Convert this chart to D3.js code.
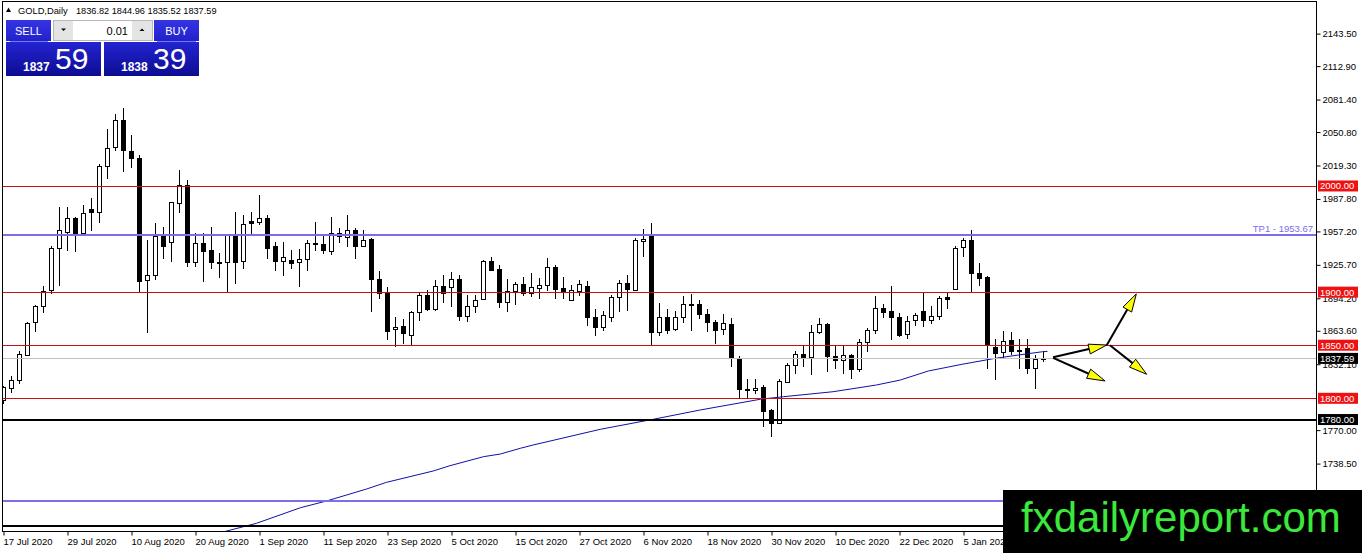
<!DOCTYPE html>
<html>
<head>
<meta charset="utf-8">
<script src="https://cdn.jsdelivr.net/npm/d3@7"></script>
<style>
  html, body { margin: 0; padding: 0; background: #fff; }
  svg { display: block; }
  text { font-family: "Liberation Sans", Arial, sans-serif; }
</style>
</head>
<body>
<svg id="chart" width="1362" height="553"></svg>
<script>
// ---------------- DATA ----------------
const opens = [1798.2,1810.1,1817.0,1841.0,1871.6,1886.6,1901.7,1941.5,1957.0,1969.6,
  1955.5,1978.3,1975.8,2018.7,2036.8,2061.9,2032.8,2026.5,1911.4,1916.4,
  1953.0,1947.1,1984.1,2000.9,1928.0,1946.1,1939.9,1928.3,1928.0,1953.3,
  1928.9,1967.1,1966.4,1970.2,1943.0,1929.8,1930.5,1928.3,1931.4,1946.7,
  1945.2,1938.9,1953.0,1952.4,1958.6,1943.6,1949.9,1912.4,1899.2,1865.4,
  1868.5,1859.4,1881.4,1897.6,1884.5,1906.1,1904.9,1912.4,1877.3,1886.6,
  1893.6,1929.5,1922.0,1890.8,1900.7,1907.7,1899.2,1903.9,1906.4,1923.6,
  1903.9,1892.9,1901.4,1906.1,1876.7,1867.3,1876.7,1895.5,1908.6,1902.0,
  1948.3,1953.3,1862.6,1876.7,1865.4,1876.7,1889.2,1888.9,1879.5,1872.0,
  1865.4,1870.1,1837.6,1809.1,1807.8,1811.0,1788.8,1777.2,1815.7,1831.0,
  1841.3,1838.8,1862.3,1870.1,1839.7,1836.0,1841.1,1827.3,1853.3,1864.1,
  1885.1,1882.6,1876.7,1860.1,1873.3,1882.6,1873.5,1877.9,1895.1,1903.0,
  1942.4,1949.2,1918.0,1914.2,1848.5,1843.9,1854.5,1845.7,1847.0,1828.2,
  1836.82];
const highs = [1811.6,1821.0,1844.4,1871.6,1887.6,1906.1,1943.0,1980.5,1979.9,1971.1,
  1982.1,1988.4,2021.0,2054.1,2068.1,2073.8,2048.4,2029.0,1949.2,1965.5,
  1961.7,1985.2,2014.9,2005.5,1955.5,1955.5,1961.7,1936.8,1954.5,1975.8,
  1972.7,1975.8,1991.5,1972.7,1947.6,1947.6,1939.9,1940.8,1949.2,1965.8,
  1954.0,1971.1,1960.8,1972.7,1960.2,1958.6,1950.8,1919.5,1904.9,1876.7,
  1874.8,1882.0,1899.2,1902.3,1911.7,1916.4,1918.6,1916.4,1897.6,1897.6,
  1930.5,1933.0,1925.8,1912.6,1909.2,1913.9,1918.0,1913.3,1932.1,1925.8,
  1913.9,1907.0,1911.7,1910.1,1884.5,1882.0,1897.6,1911.7,1916.4,1951.4,
  1959.6,1964.9,1889.8,1884.2,1882.0,1896.1,1898.3,1892.9,1884.5,1874.2,
  1879.5,1875.8,1839.7,1817.9,1818.5,1812.2,1789.7,1817.9,1833.5,1844.4,
  1849.1,1868.8,1875.8,1871.1,1850.0,1849.1,1842.0,1855.4,1866.4,1896.1,
  1888.9,1906.1,1880.4,1877.3,1880.4,1899.8,1886.6,1896.1,1899.8,1943.0,
  1951.4,1958.6,1927.4,1915.5,1855.4,1863.2,1862.6,1856.0,1856.0,1840.7,
  1844.96];
const lows = [1796.0,1806.0,1814.8,1841.0,1863.2,1881.4,1899.2,1906.4,1939.9,1938.3,
  1955.5,1958.6,1966.4,2007.7,2033.7,2014.0,2018.0,1900.7,1862.6,1912.6,
  1932.1,1928.9,1975.2,1924.2,1924.2,1910.8,1923.2,1913.9,1901.4,1908.6,
  1922.6,1954.0,1964.0,1932.1,1921.0,1915.8,1922.6,1905.7,1920.4,1939.9,
  1936.8,1936.1,1947.6,1943.0,1932.1,1943.6,1882.0,1894.5,1856.0,1849.1,
  1851.7,1850.2,1874.2,1882.9,1883.6,1890.4,1886.6,1874.2,1872.6,1881.0,
  1893.6,1921.1,1885.7,1882.0,1888.9,1897.6,1896.1,1894.5,1902.3,1894.5,
  1894.5,1892.9,1897.6,1869.5,1859.4,1864.8,1872.6,1882.0,1883.6,1902.0,
  1934.3,1850.7,1859.4,1861.7,1864.8,1872.0,1864.8,1875.8,1863.2,1852.3,
  1860.1,1830.3,1800.5,1800.7,1805.4,1774.1,1764.6,1777.2,1815.7,1824.2,
  1830.3,1822.6,1861.7,1825.7,1828.9,1824.2,1818.8,1825.7,1844.4,1861.7,
  1876.3,1855.4,1858.5,1857.0,1869.5,1867.9,1871.1,1874.8,1885.1,1903.0,
  1933.6,1900.7,1906.4,1828.9,1817.9,1838.8,1841.3,1828.9,1823.5,1810.1,
  1835.52];
const closes = [1810.6,1817.2,1842.0,1871.1,1887.0,1900.7,1941.5,1958.6,1969.6,1954.9,
  1974.3,1975.8,2018.7,2036.2,2061.9,2033.7,2025.9,1910.1,1916.4,1953.0,
  1943.0,1984.6,2000.9,1928.0,1946.1,1938.9,1928.0,1927.0,1954.0,1928.0,
  1964.0,1965.5,1970.2,1942.0,1929.8,1933.3,1927.4,1931.1,1946.1,1945.2,
  1939.9,1955.5,1955.5,1958.6,1943.6,1949.2,1912.4,1899.2,1863.2,1867.6,
  1861.7,1881.4,1897.3,1884.5,1905.4,1899.2,1912.4,1877.3,1886.6,1892.9,
  1929.5,1921.1,1890.4,1901.4,1907.7,1899.2,1904.5,1906.4,1923.6,1903.3,
  1900.7,1901.7,1907.7,1876.3,1867.3,1878.9,1895.5,1908.6,1903.3,1949.2,
  1950.2,1862.6,1876.7,1864.8,1876.7,1888.9,1887.6,1879.5,1872.0,1864.8,
  1871.1,1837.6,1808.5,1808.1,1810.1,1787.6,1777.2,1816.3,1831.0,1841.3,
  1838.2,1862.3,1870.1,1839.7,1836.0,1840.4,1827.3,1853.3,1864.1,1885.1,
  1881.4,1876.3,1859.4,1872.6,1878.9,1873.5,1877.9,1894.5,1893.9,1942.0,
  1949.2,1918.0,1913.3,1850.0,1842.9,1853.8,1844.5,1844.5,1828.2,1837.3,
  1837.59];

// moving average (bar index, value)
const maIdx = [26, 27.9, 31.6, 37.1, 40.4, 45.4, 47.9, 53.7, 55.8, 60.0, 62.1, 64.6, 66.2,
  74.6, 81.2, 87.1, 94.6, 97.5, 103.7, 109.1, 112.1, 115.6, 119.8, 124.0, 126.9, 129.9, 130.5];
const maVal = [1670.5, 1675.0, 1682.2, 1696.9, 1703.3, 1714.6, 1720.9, 1731.5, 1736.5, 1745.0,
  1747.5, 1752.9, 1756.0, 1770.8, 1780.2, 1789.0, 1799.1, 1801.5, 1806.2, 1812.5, 1817.2,
  1825.7, 1832.0, 1837.7, 1840.8, 1843.9, 1844.2];

const dateIdx = [0, 8, 16, 24, 32, 40, 48, 56, 64, 72, 80, 88, 96, 104, 112, 120];
const dateLabels = ["17 Jul 2020","29 Jul 2020","10 Aug 2020","20 Aug 2020","1 Sep 2020",
  "11 Sep 2020","23 Sep 2020","5 Oct 2020","15 Oct 2020","27 Oct 2020","6 Nov 2020",
  "18 Nov 2020","30 Nov 2020","10 Dec 2020","22 Dec 2020","5 Jan 2021"];

const priceTicks = [2143.50, 2112.90, 2081.40, 2050.80, 2019.30, 1987.80, 1957.20, 1925.70,
  1894.20, 1863.60, 1832.10, 1770.00, 1738.50];

const redLevels = [2000, 1900, 1850, 1800];
const blackLevels = [1780, 1680];
const blueLevels = [1953.67, 1703.3];
const tpLabel = "TP1 - 1953.67";
const currentPrice = 1837.59;

const header = { symbol: "GOLD,Daily", ohlc: "1836.82 1844.96 1835.52 1837.59" };
const lotSize = "0.01";
const sellBig = ["1837", "59"];
const buyBig = ["1838", "39"];

// arrows in (bar index, price) space
const arrows = [
  [131.2, 1838.6, 137.9, 1850.2],
  [131.2, 1838.0, 137.7, 1816.3],
  [137.9, 1850.0, 141.6, 1898.3],
  [138.3, 1850.0, 142.9, 1822.6]
];
const watermark = "fxdailyreport.com";

// ---------------- CHART ----------------
const svg = d3.select("#chart");
const W = 1362, H = 553;
const plotL = 2.5, plotR = 1316, plotT = 1.5, plotB = 531;

const x = d3.scaleLinear().domain([0, 130]).range([3.5, 1043.5]);
const y = d3.scaleLinear().domain([1675.0, 2173.3]).range([531, 2]);

svg.append("rect").attr("width", W).attr("height", H).attr("fill", "#fff");

svg.append("defs").append("clipPath").attr("id", "plotclip")
  .append("rect").attr("x", plotL).attr("y", plotT).attr("width", plotR - plotL).attr("height", plotB - plotT);

const plot = svg.append("g").attr("clip-path", "url(#plotclip)");

// candles
const bars = opens.map((o, i) => ({ i, o, h: highs[i], l: lows[i], c: closes[i] }));
const cg = plot.append("g");
cg.selectAll("line.wick").data(bars).join("line")
  .attr("x1", d => x(d.i)).attr("x2", d => x(d.i))
  .attr("y1", d => Math.round(y(d.h))).attr("y2", d => Math.round(y(d.l)) + 1)
  .attr("stroke", "#000").attr("stroke-width", 1);
cg.selectAll("rect.body").data(bars).join("rect")
  .attr("x", d => x(d.i) - 2)
  .attr("y", d => Math.round(y(Math.max(d.o, d.c))) + 0.5)
  .attr("width", 4)
  .attr("height", d => Math.max(0.01, Math.round(y(Math.min(d.o, d.c))) - Math.round(y(Math.max(d.o, d.c)))))
  .attr("fill", d => d.c >= d.o ? "#fff" : "#000")
  .attr("stroke", "#000").attr("stroke-width", 1);

// moving average
plot.append("path")
  .datum(maIdx.map((d, k) => [d, maVal[k]]))
  .attr("d", d3.line().x(d => x(d[0])).y(d => y(d[1])))
  .attr("fill", "none").attr("stroke", "#1010a8").attr("stroke-width", 1);

// horizontal levels
const hl = svg.append("g");
hl.append("line").attr("x1", plotL).attr("x2", plotR)
  .attr("y1", Math.round(y(currentPrice)) + 0.5).attr("y2", Math.round(y(currentPrice)) + 0.5)
  .attr("stroke", "#c0c0c0").attr("stroke-width", 1);
redLevels.forEach(p => {
  const yy = Math.round(y(p)) + 0.5;
  hl.append("line").attr("x1", plotL).attr("x2", plotR).attr("y1", yy).attr("y2", yy)
    .attr("stroke", "#cc1010").attr("stroke-width", 1);
});
blackLevels.forEach(p => {
  const yy = Math.round(y(p));
  hl.append("line").attr("x1", plotL).attr("x2", plotR).attr("y1", yy).attr("y2", yy)
    .attr("stroke", "#000").attr("stroke-width", 2);
});
blueLevels.forEach(p => {
  const yy = Math.round(y(p));
  hl.append("line").attr("x1", plotL).attr("x2", plotR).attr("y1", yy).attr("y2", yy)
    .attr("stroke", "#7b6ee8").attr("stroke-width", 2);
});
hl.append("text").attr("x", 1313).attr("y", Math.round(y(blueLevels[0])) - 3)
  .attr("text-anchor", "end").attr("font-size", 9.5).attr("fill", "#7b6ee8").text(tpLabel);

// frame
svg.append("rect").attr("x", plotL).attr("y", plotT).attr("width", plotR + 0.5 - plotL).attr("height", plotB + 0.5 - plotT)
  .attr("fill", "none").attr("stroke", "#000").attr("stroke-width", 1);

// right axis
const ya = svg.append("g").attr("transform", `translate(${plotR + 0.5},0)`)
  .call(d3.axisRight(y).tickValues(priceTicks).tickFormat(d3.format(".2f")).tickSize(4).tickPadding(2));
ya.select(".domain").remove();
ya.selectAll("text").attr("font-size", 9.5).attr("fill", "#000").attr("font-family", "Liberation Sans, Arial, sans-serif");
ya.selectAll("line").attr("stroke", "#000");

// bottom axis
const xa = svg.append("g").attr("transform", `translate(0,${plotB + 0.5})`)
  .call(d3.axisBottom(x).tickValues(dateIdx).tickFormat((d, k) => dateLabels[k]).tickSize(4).tickPadding(3));
xa.select(".domain").remove();
xa.selectAll("text").attr("font-size", 9.5).attr("fill", "#000").attr("text-anchor", "start").attr("dx", -0.5)
  .attr("font-family", "Liberation Sans, Arial, sans-serif");
xa.selectAll("line").attr("stroke", "#000");

// price labels on axis
function axisTag(p, bg) {
  const yy = y(p);
  svg.append("rect").attr("x", 1318).attr("y", yy - 5.5).attr("width", 40).attr("height", 11).attr("fill", bg);
  svg.append("text").attr("x", 1320).attr("y", yy + 3.5).attr("font-size", 9.5).attr("fill", "#fff").text(p.toFixed(2));
}
redLevels.forEach(p => axisTag(p, "#ee1111"));
axisTag(1780, "#000");
axisTag(currentPrice, "#000");

// arrows
const ag = svg.append("g");
arrows.forEach(a => {
  const x1 = x(a[0]), y1 = y(a[1]), x2 = x(a[2]), y2 = y(a[3]);
  const dx = x2 - x1, dy = y2 - y1, len = Math.hypot(dx, dy);
  const ux = dx / len, uy = dy / len, px = -uy, py = ux;
  const hl = 18, hw = 5;
  const bx = x2 - ux * hl, by = y2 - uy * hl;
  ag.append("line").attr("x1", x1).attr("y1", y1).attr("x2", bx + ux * 2).attr("y2", by + uy * 2)
    .attr("stroke", "#000").attr("stroke-width", 2);
  ag.append("path")
    .attr("d", `M${x2},${y2}L${bx + px * hw},${by + py * hw}L${bx - px * hw},${by - py * hw}Z`)
    .attr("fill", "#ffff00").attr("stroke", "#000").attr("stroke-width", 1);
});

// header
const hd = svg.append("g");
hd.append("path").attr("d", "M6,12L11,12L8.5,7.5Z").attr("fill", "#000");
hd.append("text").attr("x", 18).attr("y", 14).attr("font-size", 9.3).attr("fill", "#000").text(header.symbol);
hd.append("text").attr("x", 76).attr("y", 14).attr("font-size", 9.2).attr("fill", "#000").text(header.ohlc);

// trade panel
const defs = svg.select("defs");
const g1 = defs.append("linearGradient").attr("id", "gTop").attr("x1", 0).attr("y1", 0).attr("x2", 0).attr("y2", 1);
g1.append("stop").attr("offset", 0).attr("stop-color", "#3434e4");
g1.append("stop").attr("offset", 1).attr("stop-color", "#2222cc");
const g2 = defs.append("linearGradient").attr("id", "gBig").attr("x1", 0).attr("y1", 0).attr("x2", 0).attr("y2", 1);
g2.append("stop").attr("offset", 0).attr("stop-color", "#2424d2");
g2.append("stop").attr("offset", 1).attr("stop-color", "#0c0c92");

const tp = svg.append("g");
tp.append("rect").attr("x", 6).attr("y", 20).attr("width", 45).attr("height", 21).attr("fill", "url(#gTop)");
tp.append("rect").attr("x", 154).attr("y", 20).attr("width", 45).attr("height", 21).attr("fill", "url(#gTop)");
tp.append("line").attr("x1", 10).attr("x2", 48).attr("y1", 41.5).attr("y2", 41.5).attr("stroke", "#7a7af0");
tp.append("line").attr("x1", 157).attr("x2", 196).attr("y1", 41.5).attr("y2", 41.5).attr("stroke", "#7a7af0");
tp.append("text").attr("x", 28.5).attr("y", 35).attr("text-anchor", "middle").attr("font-size", 11).attr("fill", "#fff").text("SELL");
tp.append("text").attr("x", 176.5).attr("y", 35).attr("text-anchor", "middle").attr("font-size", 11).attr("fill", "#fff").text("BUY");
// spinner
tp.append("rect").attr("x", 53.5).attr("y", 20.5).attr("width", 99).attr("height", 20).attr("fill", "#fff").attr("stroke", "#b8b8b8");
tp.append("rect").attr("x", 54).attr("y", 21).attr("width", 19).attr("height", 19).attr("fill", "#e4e4e4");
tp.append("rect").attr("x", 132).attr("y", 21).attr("width", 20).attr("height", 19).attr("fill", "#e4e4e4");
tp.append("path").attr("d", "M61,28.5L66,28.5L63.5,31Z").attr("fill", "#000");
tp.append("path").attr("d", "M139.5,31L144.5,31L142,28.5Z").attr("fill", "#000");
tp.append("text").attr("x", 128).attr("y", 35).attr("text-anchor", "end").attr("font-size", 11).attr("fill", "#000").text(lotSize);
// big price boxes
[[6, sellBig], [104, buyBig]].forEach(([bx, v]) => {
  tp.append("rect").attr("x", bx).attr("y", 42).attr("width", 95).attr("height", 34).attr("fill", "url(#gBig)");
  tp.append("text").attr("x", bx + 17).attr("y", 70.5).attr("font-size", 12).attr("font-weight", "bold").attr("fill", "#fff").text(v[0]);
  tp.append("text").attr("x", bx + 49).attr("y", 69).attr("font-size", 30).attr("fill", "#fff").text(v[1]);
});

// watermark
svg.append("rect").attr("x", 1003).attr("y", 490).attr("width", 359).attr("height", 63).attr("fill", "#000");
svg.append("text").attr("x", 1021).attr("y", 532).attr("font-size", 42).attr("fill", "#3be83b").text(watermark);
</script>
</body>
</html>
